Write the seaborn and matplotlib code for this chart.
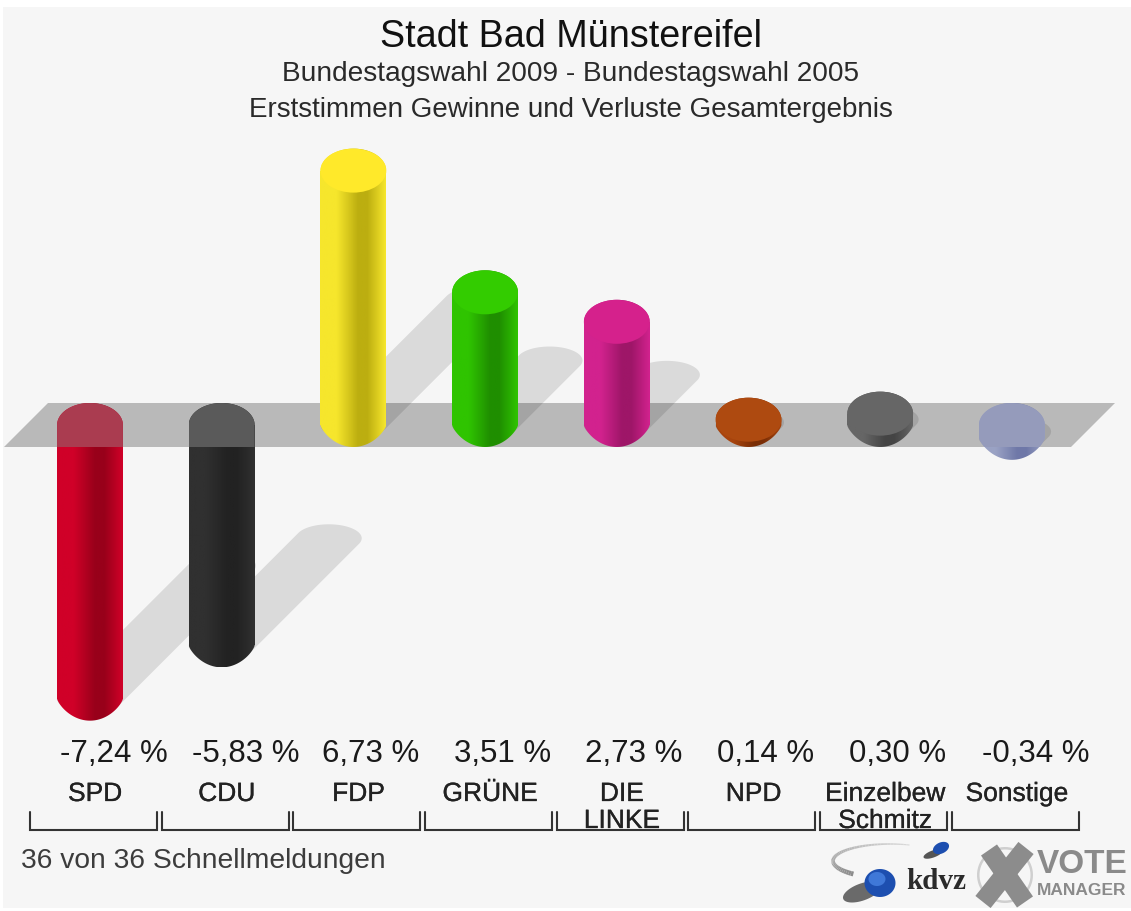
import numpy as np
import pandas as pd
import seaborn as sns
import matplotlib
matplotlib.use("Agg")
import matplotlib.pyplot as plt
import matplotlib.patheffects as pe
from matplotlib.collections import LineCollection
from matplotlib.colors import LinearSegmentedColormap
from matplotlib.patches import Ellipse, Polygon, Rectangle

# values
parteien = ["SPD", "CDU", "FDP", "GRÜNE", "DIE\nLINKE", "NPD", "Einzelbew\nSchmitz", "Sonstige"]
werte = [-7.24, -5.83, 6.73, 3.51, 2.73, 0.14, 0.30, -0.34]
titel = "Stadt Bad Münstereifel"
untertitel = "Bundestagswahl 2009 - Bundestagswahl 2005"
untertitel2 = "Erststimmen Gewinne und Verluste Gesamtergebnis"
fussnote = "36 von 36 Schnellmeldungen"

# colours: side of the cylinder (light, dark), then the flat cap
farben_hell = ["#d00028", "#303030", "#f6e62c", "#2fc400", "#d2228e", "#a8440e", "#666666", "#9aa2c4"]
farben_dunkel = ["#98001a", "#222222", "#bcae10", "#1f8e00", "#9e1668", "#7a2e06", "#444444", "#6f78a8"]
farben_deckel = ["#aa3c50", "#5a5a5a", "#ffe92a", "#33cc00", "#d5218c", "#ae4a10", "#666666", "#959bbb"]

B, H = 1131, 911
PX_X = 131.7  # pixels per category
PX_Y = 37.8  # pixels per percent
X0, Y0 = 90, 425  # pixel position of first category / zero line
RY = 22 / PX_Y  # half height of the ellipses
SCHATTEN = 0.486

sns.set_theme(style="white")
plt.rcParams["font.family"] = ["Liberation Sans", "DejaVu Sans"]

fig = plt.figure(figsize=(B / 100, H / 100), dpi=100, facecolor="white")
ax = fig.add_axes([0, 0, 1, 1])
ax.set_facecolor("white")


def px(x, y):
    # picture pixels to data coordinates, for decoration only
    return (x - X0) / PX_X, (Y0 - y) / PX_Y


def ellipse_punkte(cx, cy, rx, ry, von, bis, spitz=1.0, n=60):
    t = np.linspace(von, bis, n)
    s = np.sin(t)
    return np.column_stack([cx + rx * np.cos(t), cy + ry * np.sign(s) * np.abs(s) ** spitz])


def schrift(x, y, text, **kw):
    return fig.text(x / B, 1 - y / H, text, va="baseline", **kw)


df = pd.DataFrame({"partei": parteien, "wert": werte})
sns.barplot(data=df, x="partei", y="wert", hue="partei", palette=farben_hell, saturation=1,
            width=0.5, legend=False, ax=ax, zorder=2, linewidth=0)
balken = list(ax.patches)

ax.set_xlim((0 - X0) / PX_X, (B - X0) / PX_X)
ax.set_ylim((Y0 - H) / PX_Y, Y0 / PX_Y)
ax.axis("off")

# background panel and grey floor band
x1, y1 = px(3, 7)
x2, y2 = px(B, 908)
ax.add_patch(Rectangle((x1, y2), x2 - x1, y1 - y2, fc="#f6f6f6", ec="none", zorder=0))
band = [px(4, 447), px(48, 403), px(1115, 403), px(1071, 447)]
ax.add_patch(Polygon(band, fc="#b9b9b9", ec="none", zorder=0.2))

for i, bar in enumerate(balken):
    rx = bar.get_width() / 2
    cx = bar.get_x() + rx
    wert = bar.get_y() + bar.get_height()
    oben, unten = max(wert, 0), min(wert, 0)

    # shadow runs at 45 degrees from the foot of the bar
    d = abs(wert) * PX_Y * SCHATTEN
    sx, sy = rx * PX_X, 14
    t0 = -np.arctan2(sy, sx)
    ende = ellipse_punkte(cx + d / PX_X, unten + d / PX_Y, rx, sy / PX_Y, t0, t0 + np.pi)
    start = ellipse_punkte(cx, unten, rx, sy / PX_Y, t0 + np.pi, t0 + 2 * np.pi)
    ax.add_patch(Polygon(np.vstack([ende, start]), fc="black", alpha=0.11, ec="none", zorder=0.5))

    # cylinder outline: rounded top, pointed bottom
    umriss = np.vstack([
        ellipse_punkte(cx, oben, rx, RY, 0, np.pi),
        ellipse_punkte(cx, unten, rx, RY, np.pi, 2 * np.pi, spitz=1.5),
    ])
    form = Polygon(umriss, transform=ax.transData, fc="none", ec="none")
    verlauf = LinearSegmentedColormap.from_list(
        f"zyl{i}", [(0, farben_hell[i]), (0.25, farben_hell[i]), (0.58, farben_dunkel[i]), (0.72, farben_dunkel[i]), (1, farben_hell[i])])
    im = ax.imshow(np.linspace(0, 1, 128)[None, :], cmap=verlauf, aspect="auto", zorder=3,
                   extent=(cx - rx, cx + rx, unten - RY, oben + RY))
    im.set_clip_path(form)

    if wert > 0:
        ax.add_patch(Ellipse((cx, wert), 2 * rx, 2 * RY, fc=farben_deckel[i], ec="none", zorder=4))
    else:
        # part of a negative bar that lies behind the grey band
        deckel = Rectangle((cx - rx, -RY), 2 * rx, 2 * RY, fc=farben_deckel[i], ec="none", zorder=4)
        ax.add_patch(deckel)
        deckel.set_clip_path(Polygon(umriss, transform=ax.transData))

    # value label
    text = f"{wert:.2f}".replace(".", ",") + " %"
    rechts = X0 + i * PX_X + (78 if wert < 0 else 66)
    schrift(rechts, 762, text, ha="right", fontsize=22.5, color="#1a1a1a")

    # party label
    for j, zeile in enumerate(parteien[i].split("\n")):
        t = schrift(X0 + i * PX_X + 5, 801 + j * 27, zeile, ha="center", fontsize=19, color="#222222")
        t.set_path_effects([pe.withStroke(linewidth=0.2, foreground="#222222")])

    # bracket under each party
    links, re = i - 60 / PX_X, i + 67 / PX_X
    oben_k, unten_k = (Y0 - 812) / PX_Y, (Y0 - 830) / PX_Y
    ax.plot([links, links, re, re], [oben_k, unten_k, unten_k, oben_k], color="#333333", lw=1.5,
            solid_joinstyle="miter", zorder=3)

ax.set_xlim((0 - X0) / PX_X, (B - X0) / PX_X)
ax.set_ylim((Y0 - H) / PX_Y, Y0 / PX_Y)

schrift(571, 47, titel, ha="center", fontsize=27.2, color="#111111")
schrift(571, 81, untertitel, ha="center", fontsize=20.2, color="#2a2a2a")
schrift(571, 117, untertitel2, ha="center", fontsize=20, color="#2a2a2a")
schrift(21, 868, fussnote, ha="left", fontsize=20.3, color="#3c3c3c")

# kdvz logo: swoosh, blue balls, lettering
t = np.linspace(np.radians(70), np.radians(230), 50)
bogen = np.column_stack([890 + 57 * np.cos(t), 861 - 17 * np.sin(t)])
bogen = np.array([px(*p) for p in bogen])
stuecke = np.stack([bogen[:-1], bogen[1:]], axis=1)
grau = np.linspace(0.85, 0.55, len(stuecke))
ax.add_collection(LineCollection(stuecke, colors=[(g, g, g) for g in grau], linewidths=np.linspace(0.8, 3.5, len(stuecke)), zorder=3))


def logo_ellipse(x, y, w, h, winkel, farbe):
    # angle and size given in pixels, so squash through a polygon
    t = np.linspace(0, 2 * np.pi, 60)
    a = np.radians(winkel)
    xs = w / 2 * np.cos(t)
    ys = h / 2 * np.sin(t)
    pts = [px(x + xs[k] * np.cos(a) - ys[k] * np.sin(a), y + xs[k] * np.sin(a) + ys[k] * np.cos(a)) for k in range(60)]
    ax.add_patch(Polygon(pts, fc=farbe, ec="none", zorder=3))


logo_ellipse(862, 892, 40, 17, -20, "#6a6a6a")
logo_ellipse(880, 883, 31, 28, 0, "#1d4fb0")
logo_ellipse(877, 879, 17, 14, 0, "#3f78d8")
logo_ellipse(933, 854, 20, 7, -20, "#555555")
logo_ellipse(941, 848, 17, 11, -25, "#1d4fb0")
schrift(936, 889, "kdvz", ha="center", fontsize=21, color="#2a2a2a", fontweight="bold", family=["Liberation Serif"])

# VoteManager logo: ringed cross and lettering
logo_ellipse(1005, 875, 56, 56, 0, "#cfcfcf")
logo_ellipse(1005, 875, 51, 51, 0, "#f6f6f6")
for a, b in [((989, 850), (1025, 902)), ((1026, 848), (983, 902))]:
    p, q = px(*a), px(*b)
    ax.plot([p[0], q[0]], [p[1], q[1]], color="#8c8c8c", lw=14, solid_capstyle="butt", zorder=3.5)
schrift(1037, 873, "VOTE", ha="left", fontsize=24, color="#8a8a8a", fontweight="bold")
schrift(1037, 895, "MANAGER", ha="left", fontsize=12.5, color="#8a8a8a", fontweight="bold")

fig.savefig("out.png", dpi=100)
